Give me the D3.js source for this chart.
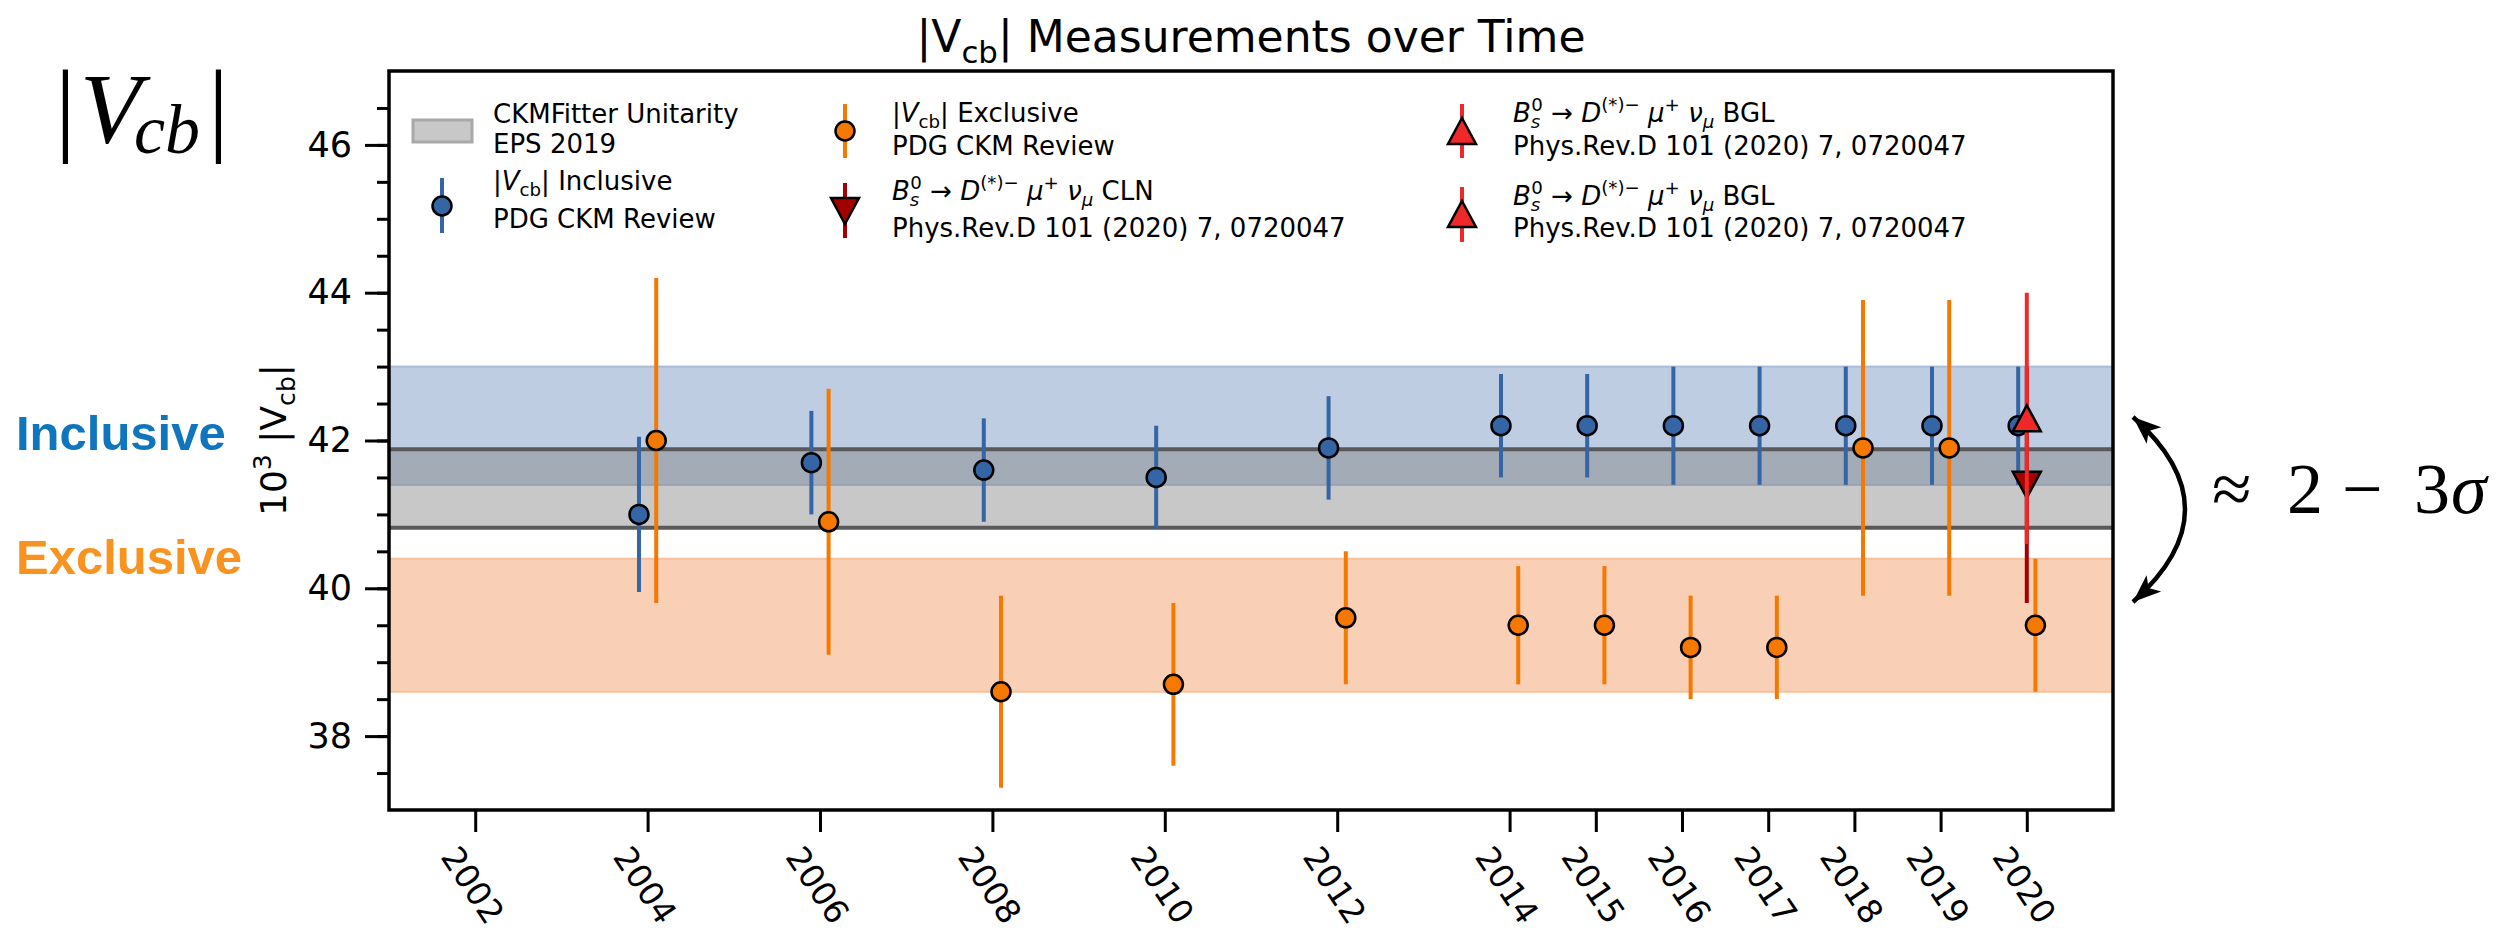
<!DOCTYPE html>
<html>
<head>
<meta charset="utf-8">
<script src="https://cdn.jsdelivr.net/npm/d3@7"></script>
<style>
  body { margin: 0; background: #fff; }
  svg text { font-family: "DejaVu Sans", sans-serif; }
</style>
</head>
<body>
<svg id="chart" width="2500" height="931"></svg>
<script>
// x axis ticks (years)
const tickYears = [2002, 2004, 2006, 2008, 2010, 2012, 2014, 2015, 2016, 2017, 2018, 2019, 2020];

// |Vcb| inclusive, PDG CKM review
const incYears = [2004, 2006, 2008, 2010, 2012, 2014, 2015, 2016, 2017, 2018, 2019, 2020];
const incValues = [41.0, 41.7, 41.6, 41.5, 41.9, 42.2, 42.2, 42.2, 42.2, 42.2, 42.2, 42.2];
const incErrors = [1.05, 0.7, 0.7, 0.7, 0.7, 0.7, 0.7, 0.8, 0.8, 0.8, 0.8, 0.8];

// |Vcb| exclusive, PDG CKM review
const excYears = [2004, 2006, 2008, 2010, 2012, 2014, 2015, 2016, 2017, 2018, 2019, 2020];
const excValues = [42.0, 40.9, 38.6, 38.7, 39.6, 39.5, 39.5, 39.2, 39.2, 41.9, 41.9, 39.5];
const excErrors = [2.2, 1.8, 1.3, 1.1, 0.9, 0.8, 0.8, 0.7, 0.7, 2.0, 2.0, 0.9];

// LHCb Bs -> Ds(*) mu nu (Phys.Rev.D 101 (2020) 072004)
const lhcbYear = 2020;
const clnValue = 41.4, clnError = 1.6;
const bglValue = 42.3, bglError = 1.7;

// horizontal bands [low, high]
const incBand = [41.4, 43.0];
const excBand = [38.6, 40.4];
const ckmBand = [40.82, 41.88];

const colors = {
  inc: "#3465a4",
  exc: "#f57900",
  cln: "#a40000",
  bgl: "#ef2929",
};

const svg = d3.select("#chart");
const margin = { left: 389, right: 2113, top: 71, bottom: 810 };

const x = d3.scaleLinear().domain([2001, 2021]).range([margin.left, margin.right]);
const y = d3.scaleLinear().domain([37, 47]).range([margin.bottom, margin.top]);

// small helper for mathtext-like strings: parts = [text, kind, dx]
function mathText(g, px, py, size, parts, anchor) {
  const t = g.append("text")
    .attr("x", px).attr("y", py)
    .attr("font-size", size)
    .attr("text-anchor", anchor || "start")
    .attr("xml:space", "preserve");
  let shift = 0;
  parts.forEach(([s, kind, dx]) => {
    kind = kind || "";
    let target = 0, fs = size;
    if (kind.includes("sub")) { target = 0.24 * size; fs = 0.7 * size; }
    if (kind.includes("sup")) { target = -0.42 * size; fs = 0.7 * size; }
    const italic = kind.startsWith("i");
    t.append("tspan")
      .attr("dy", target - shift)
      .attr("dx", dx || null)
      .attr("font-size", fs)
      .attr("font-style", italic ? "italic" : null)
      .text(s);
    shift = target;
  });
  return t;
}

// ---- bands ----
const bands = svg.append("g");
bands.append("rect")
  .attr("x", margin.left).attr("width", margin.right - margin.left)
  .attr("y", y(incBand[1])).attr("height", y(incBand[0]) - y(incBand[1]))
  .attr("fill", "#bfcde2").attr("stroke", "#a9bcd9").attr("stroke-width", 2);
bands.append("rect")
  .attr("x", margin.left).attr("width", margin.right - margin.left)
  .attr("y", y(excBand[1])).attr("height", y(excBand[0]) - y(excBand[1]))
  .attr("fill", "#f9d0b6").attr("stroke", "#f7c09c").attr("stroke-width", 2);
bands.append("rect")
  .attr("x", margin.left).attr("width", margin.right - margin.left)
  .attr("y", y(ckmBand[1])).attr("height", y(ckmBand[0]) - y(ckmBand[1]))
  .attr("fill", "#808080").attr("fill-opacity", 0.43);
ckmBand.forEach(v => {
  bands.append("line")
    .attr("x1", margin.left).attr("x2", margin.right)
    .attr("y1", y(v)).attr("y2", y(v))
    .attr("stroke", "#595959").attr("stroke-width", 4);
});

// ---- markers ----
function drawMarker(g, cx, cy, shape, fill) {
  if (shape === "circle") {
    g.append("circle").attr("cx", cx).attr("cy", cy).attr("r", 9.5)
      .attr("fill", fill).attr("stroke", "#000").attr("stroke-width", 2.5);
  } else {
    const s = shape === "up" ? 1 : -1;
    const p = `M${cx},${cy - 13 * s} L${cx + 14},${cy + 13 * s} L${cx - 14},${cy + 13 * s} Z`;
    g.append("path").attr("d", p)
      .attr("fill", fill).attr("stroke", "#000").attr("stroke-width", 2.5)
      .attr("stroke-linejoin", "miter");
  }
}
function errBar(g, cx, y1, y2, color) {
  g.append("line").attr("x1", cx).attr("x2", cx).attr("y1", y1).attr("y2", y2)
    .attr("stroke", color).attr("stroke-width", 4);
}

const pts = svg.append("g");
// inclusive shifted slightly left, exclusive slightly right
incYears.forEach((yr, i) => {
  const g = pts.append("g");
  errBar(g, x(yr - 0.1), y(incValues[i] + incErrors[i]), y(incValues[i] - incErrors[i]), colors.inc);
  drawMarker(g, x(yr - 0.1), y(incValues[i]), "circle", colors.inc);
});
excYears.forEach((yr, i) => {
  const g = pts.append("g");
  errBar(g, x(yr + 0.1), y(excValues[i] + excErrors[i]), y(excValues[i] - excErrors[i]), colors.exc);
  drawMarker(g, x(yr + 0.1), y(excValues[i]), "circle", colors.exc);
});
{
  const g = pts.append("g");
  errBar(g, x(lhcbYear), y(clnValue + clnError), y(clnValue - clnError), colors.cln);
  drawMarker(g, x(lhcbYear), y(clnValue), "down", colors.cln);
  errBar(g, x(lhcbYear), y(bglValue + bglError), y(bglValue - bglError), colors.bgl);
  drawMarker(g, x(lhcbYear), y(bglValue), "up", colors.bgl);
}

// ---- axes ----
const yAxis = svg.append("g").attr("transform", `translate(${margin.left},0)`)
  .call(d3.axisLeft(y).tickValues([38, 40, 42, 44, 46]).tickSize(24).tickPadding(13));
const yMinor = svg.append("g").attr("transform", `translate(${margin.left},0)`)
  .call(d3.axisLeft(y).tickValues(d3.range(37.5, 47, 0.5)).tickSize(12).tickFormat(""));
const xAxis = svg.append("g").attr("transform", `translate(0,${margin.bottom})`)
  .call(d3.axisBottom(x).tickValues(tickYears).tickSize(22).tickFormat(d3.format("d")));

[yAxis, yMinor, xAxis].forEach(a => {
  a.select(".domain").remove();
  a.selectAll(".tick line").attr("stroke", "#000").attr("stroke-width", 3);
  a.attr("font-family", null).attr("font-size", null);
});
yAxis.selectAll(".tick text").attr("font-size", 35).attr("fill", "#000");
xAxis.selectAll(".tick text")
  .attr("font-size", 33).attr("fill", "#000")
  .attr("y", 0).attr("dy", "0.35em")
  .attr("text-anchor", "middle")
  .attr("transform", "translate(-3,75) rotate(56)");

// frame
svg.append("rect")
  .attr("x", margin.left).attr("y", margin.top)
  .attr("width", margin.right - margin.left).attr("height", margin.bottom - margin.top)
  .attr("fill", "none").attr("stroke", "#000").attr("stroke-width", 3.5);

// ---- title and axis label ----
mathText(svg, (margin.left + margin.right) / 2, 52, 44,
  [["|V"], ["cb", "sub"], ["| Measurements over Time"]], "middle");

const yl = svg.append("g").attr("transform", "translate(286,440) rotate(-90)");
mathText(yl, 0, 0, 36, [["10"], ["3", "sup"], [" |V"], ["cb", "sub"], ["|"]], "middle");

// ---- legend ----
const leg = svg.append("g");
// col 1
leg.append("rect").attr("x", 413).attr("y", 120).attr("width", 59).attr("height", 22)
  .attr("fill", "#c8c8c8").attr("stroke", "#a8a8a8").attr("stroke-width", 3);
mathText(leg, 493, 123, 26, [["CKMFitter Unitarity"]]);
mathText(leg, 493, 153, 26, [["EPS 2019"]]);
errBar(leg, 442, 178, 233, colors.inc);
drawMarker(leg, 442, 206, "circle", colors.inc);
mathText(leg, 493, 190, 26, [["|"], ["V", "i"], ["cb", "sub"], ["| Inclusive"]]);
mathText(leg, 493, 228, 26, [["PDG CKM Review"]]);
// col 2
errBar(leg, 845, 104, 158, colors.exc);
drawMarker(leg, 845, 131, "circle", colors.exc);
mathText(leg, 892, 122, 26, [["|"], ["V", "i"], ["cb", "sub"], ["| Exclusive"]]);
mathText(leg, 892, 155, 26, [["PDG CKM Review"]]);
const decay = [["B", "i"], ["s", "isub"], ["0", "sup", -9], [" \u2192 "], ["D", "i"], ["(*)\u2212", "sup"],
  [" "], ["\u03bc", "i"], ["+", "sup"], [" "], ["\u03bd", "i"], ["\u03bc", "isub"]];
const ref = [["Phys.Rev.D 101 (2020) 7, 0720047"]];
errBar(leg, 845, 183, 238, colors.cln);
drawMarker(leg, 845, 211, "down", colors.cln);
mathText(leg, 892, 200, 26, decay.concat([[" CLN"]]));
mathText(leg, 892, 237, 26, ref);
// col 3
errBar(leg, 1462, 104, 158, colors.bgl);
drawMarker(leg, 1462, 131, "up", colors.bgl);
mathText(leg, 1513, 122, 26, decay.concat([[" BGL"]]));
mathText(leg, 1513, 155, 26, ref);
errBar(leg, 1462, 187, 242, colors.bgl);
drawMarker(leg, 1462, 214, "up", colors.bgl);
mathText(leg, 1513, 205, 26, decay.concat([[" BGL"]]));
mathText(leg, 1513, 237, 26, ref);

// ---- side annotations ----
const serif = "'Liberation Serif', 'DejaVu Serif', serif";
const vcb = svg.append("text").style("font-family", serif).attr("y", 142);
vcb.append("tspan").attr("x", 55).attr("font-size", 104).text("|");
vcb.append("tspan").attr("x", 80).attr("font-size", 100).attr("font-style", "italic").text("V");
vcb.append("tspan").attr("x", 134).attr("dy", 11).attr("font-size", 70).attr("font-style", "italic").text("cb");
vcb.append("tspan").attr("x", 208).attr("dy", -11).attr("font-size", 104).text("|");

svg.append("text").attr("x", 16).attr("y", 450).attr("font-size", 49).attr("font-weight", "bold")
  .style("font-family", "'Liberation Sans', Arial, sans-serif").attr("fill", "#0f75bc").text("Inclusive");
svg.append("text").attr("x", 16).attr("y", 574).attr("font-size", 49).attr("font-weight", "bold")
  .style("font-family", "'Liberation Sans', Arial, sans-serif").attr("fill", "#f7931e").text("Exclusive");

// curved double arrow
const defs = svg.append("defs");
defs.append("marker").attr("id", "head")
  .attr("viewBox", "-30 -14 32 28").attr("refX", 0).attr("refY", 0)
  .attr("markerWidth", 32).attr("markerHeight", 28)
  .attr("markerUnits", "userSpaceOnUse").attr("orient", "auto-start-reverse")
  .append("path").attr("d", "M0,0 L-28,-11 L-21,0 L-28,11 Z").attr("fill", "#000");
svg.append("path")
  .attr("d", "M2133,417 Q2237,509 2133,602")
  .attr("fill", "none").attr("stroke", "#000").attr("stroke-width", 4.5)
  .attr("marker-start", "url(#head)").attr("marker-end", "url(#head)");

const sig = svg.append("text").attr("y", 513).attr("font-size", 72)
  .style("font-family", serif);
sig.append("tspan").attr("x", 2212).text("\u2248");
sig.append("tspan").attr("x", 2287).text("2");
sig.append("tspan").attr("x", 2342).text("\u2212");
sig.append("tspan").attr("x", 2414).text("3");
sig.append("tspan").attr("x", 2451).attr("font-style", "italic").text("\u03c3");
</script>
</body>
</html>
